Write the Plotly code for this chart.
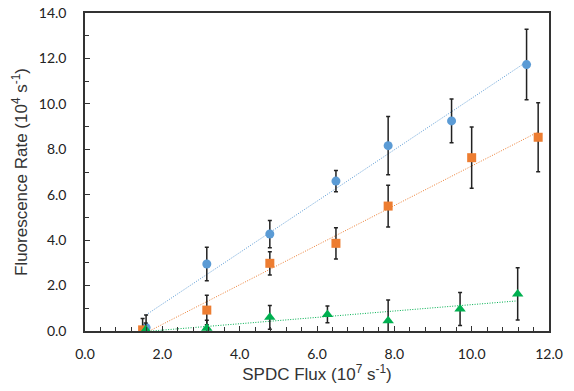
import numpy as np
import plotly.graph_objects as go

# Data
blue_x = [1.58, 3.15, 4.78, 6.49, 7.84, 9.48, 11.42]
blue_y = [0.15, 2.95, 4.27, 6.60, 8.16, 9.25, 11.73]
blue_err = [0.55, 0.74, 0.60, 0.47, 1.28, 0.96, 1.55]

orange_x = [1.49, 3.15, 4.78, 6.49, 7.84, 10.00, 11.72]
orange_y = [0.05, 0.92, 2.98, 3.86, 5.50, 7.63, 8.53]
orange_err = [0.50, 0.65, 0.51, 0.69, 0.92, 1.35, 1.52]

green_x = [1.57, 3.15, 4.78, 6.27, 7.84, 9.70, 11.19]
green_y = [0.05, 0.12, 0.60, 0.73, 0.45, 0.97, 1.63]
green_err = [0.30, 0.35, 0.52, 0.37, 0.92, 0.73, 1.15]

x_ticks = [0, 2, 4, 6, 8, 10, 12]
y_ticks = [0, 2, 4, 6, 8, 10, 12, 14]

series = [
    (blue_x, blue_y, blue_err, "#5B9BD5", "circle", 9),
    (orange_x, orange_y, orange_err, "#ED7D31", "square", 9),
    (green_x, green_y, green_err, "#00B050", "triangle-up", 10),
]

fig = go.Figure()

# trendlines (least squares fit of each series)
for xs, ys, es, col, sym, sz in series:
    k, b = np.polyfit(xs, ys, 1)
    lx = [min(xs), max(xs)]
    fig.add_trace(go.Scatter(x=lx, y=[k * v + b for v in lx], mode="lines",
                             line=dict(color=col, width=1, dash="1px,1.5px"),
                             hoverinfo="skip", showlegend=False))

for xs, ys, es, col, sym, sz in series:
    fig.add_trace(go.Scatter(
        x=xs, y=ys, mode="markers",
        marker=dict(color=col, symbol=sym, size=sz),
        error_y=dict(type="data", array=es, visible=True, color="#222222",
                     thickness=1.5, width=2),
        showlegend=False))

fig.update_layout(
    width=574, height=391,
    margin=dict(l=85, r=25, t=13, b=60),
    paper_bgcolor="white", plot_bgcolor="white",
    font=dict(family="Lato", size=14, color="#222222"),
)

fig.update_xaxes(
    range=[0, 12], tickvals=x_ticks, ticktext=[f"{v:.1f}" for v in x_ticks],
    ticks="inside", ticklen=5, tickcolor="#333333",
    minor=dict(dtick=0.4, tick0=0, ticks="inside", ticklen=4, tickcolor="#333333"),
    showline=True, linecolor="#333333", linewidth=1.5, mirror=True,
    showgrid=False, zeroline=False, ticklabelstandoff=9, automargin=False,
    ticklabeloverflow="allow",
    title=dict(text="SPDC Flux (10<sup>7</sup> s<sup>-1</sup>)",
               font=dict(family="Liberation Sans", size=17, color="#333333"),
               standoff=6),
)
fig.update_yaxes(
    range=[0, 14], tickvals=y_ticks, ticktext=[f"{v:.1f}" for v in y_ticks],
    ticks="inside", ticklen=5, tickcolor="#333333",
    minor=dict(dtick=1, tick0=0, ticks="inside", ticklen=4, tickcolor="#333333"),
    showline=True, linecolor="#333333", linewidth=1.5, mirror=True,
    showgrid=False, zeroline=False, ticklabelstandoff=14, automargin=False,
    ticklabeloverflow="allow",
    title=dict(text="Fluorescence Rate (10<sup>4</sup> s<sup>-1</sup>)",
               font=dict(family="Liberation Sans", size=17, color="#333333"),
               standoff=7),
)

fig.write_html("out.html", config={"displayModeBar": False},
               post_script="document.body.style.margin='0';document.body.style.overflow='hidden';")
